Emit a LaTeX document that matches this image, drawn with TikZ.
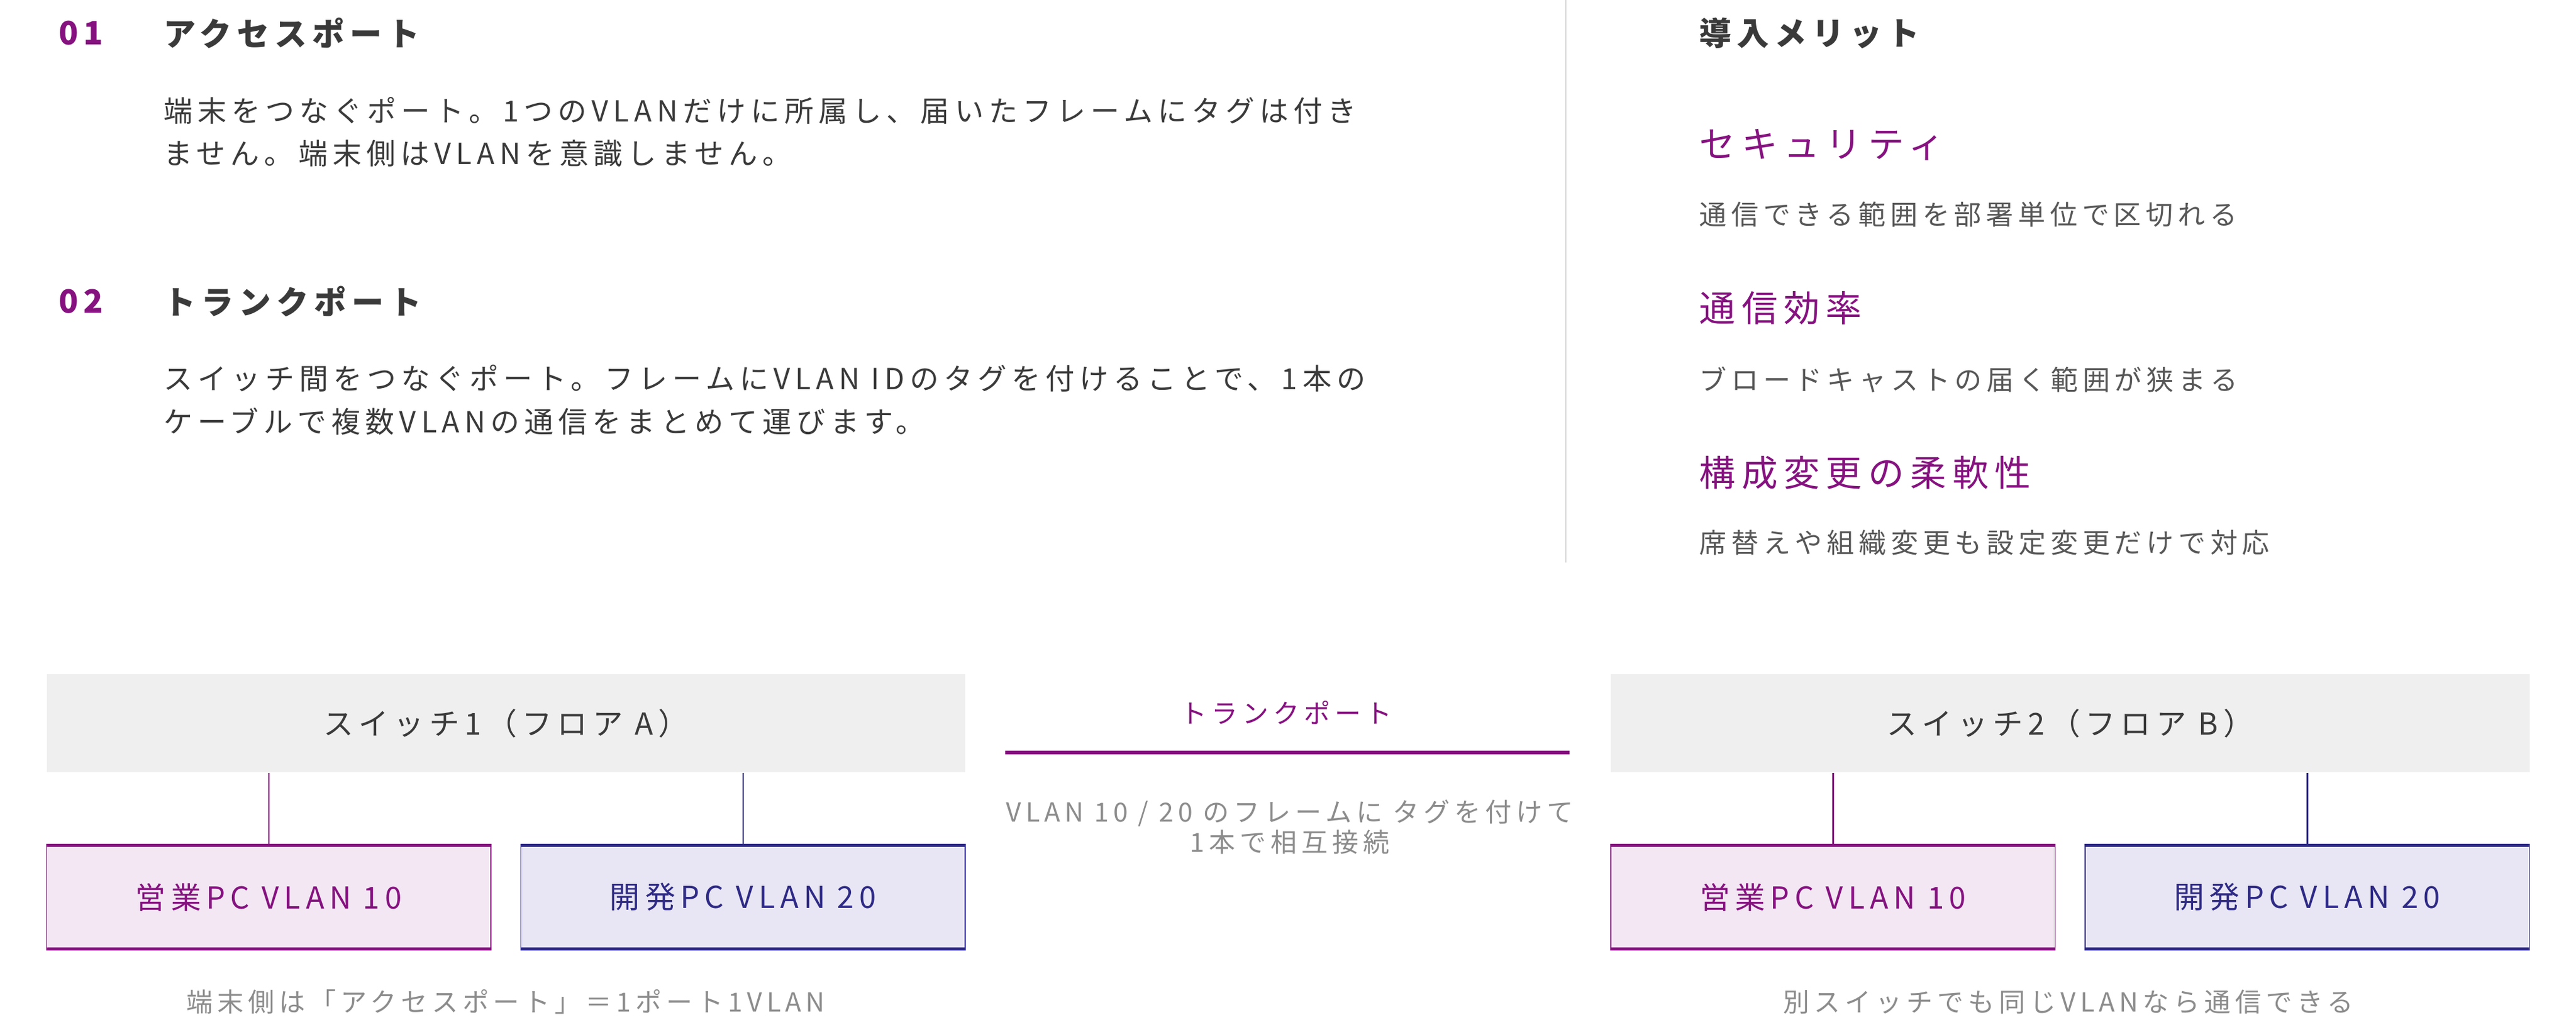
\documentclass[tikz,border=0pt]{standalone}
\usepackage{fontspec}
\setmainfont[LetterSpace=17]{Noto Sans CJK JP}
\usetikzlibrary{positioning}
\definecolor{vpurple}{HTML}{85127F}
\definecolor{vnavy}{HTML}{2E2A85}
\definecolor{vdark}{HTML}{3A3A3A}
\definecolor{vgray}{HTML}{8C8C8C}
\definecolor{vswitch}{HTML}{EFEFEF}
\definecolor{vpinkfill}{HTML}{F3E7F4}
\definecolor{vbluefill}{HTML}{E8E6F4}
\begin{document}
\begin{tikzpicture}[x=0.03cm,y=-0.03cm,
  num/.style={anchor=west,inner sep=0,text=vpurple,font=\fontsize{16.5}{20}\selectfont\bfseries},
  head/.style={anchor=west,inner sep=0,text=vdark,font=\fontsize{16.5}{20}\selectfont\bfseries},
  body/.style={anchor=north west,inner sep=0,text=vdark,align=left,font=\fontsize{14.9}{22}\selectfont},
  merit/.style={anchor=west,inner sep=0,text=vpurple,font=\fontsize{18.5}{22}\selectfont},
  note/.style={anchor=west,inner sep=0,text=vdark!85,font=\fontsize{14}{18}\selectfont},
  switch_node/.style={fill=vswitch,minimum width=552*0.03cm,minimum height=59*0.03cm,inner sep=0,text=vdark,font=\fontsize{15.5}{18}\selectfont},
  sales_node/.style={draw=vpurple,fill=vpinkfill,minimum width=267*0.03cm,minimum height=62*0.03cm,inner sep=0,text=vpurple,font=\fontsize{15.5}{18}\selectfont},
  dev_node/.style={draw=vnavy,fill=vbluefill,minimum width=267*0.03cm,minimum height=62*0.03cm,inner sep=0,text=vnavy,font=\fontsize{15.5}{18}\selectfont},
  caption/.style={inner sep=0,text=vgray,font=\fontsize{13.5}{18}\selectfont,align=center}]
\useasboundingbox (0,0) rectangle (1548,617);

% left column
\node[num] (n1) at (35,20) {01};
\node[head] (h1) at (98,20) {アクセスポート};
\node[body] (b1) at (98,58) {端末をつなぐポート。1つのVLANだけに所属し、届いたフレームにタグは付き\\ません。端末側はVLANを意識しません。};
\node[num] (n2) at (35,181) {02};
\node[head] (h2) at (98,181) {トランクポート};
\node[body] (b2) at (98,219) {スイッチ間をつなぐポート。フレームにVLAN IDのタグを付けることで、1本の\\ケーブルで複数VLANの通信をまとめて運びます。};

\coordinate (sepa) at (941,0);
\coordinate (sepb) at (941,338);
\draw[black!15,line width=0.6pt] (sepa) -- (sepb);

% right column
\node[head] (h3) at (1021,20) {導入メリット};
\node[merit] (m1) at (1021,87) {セキュリティ};
\node[note] (t1) at (1021,129) {通信できる範囲を部署単位で区切れる};
\node[merit] (m2) at (1021,185) {通信効率};
\node[note] (t2) at (1021,228) {ブロードキャストの届く範囲が狭まる};
\node[merit] (m3) at (1021,284) {構成変更の柔軟性};
\node[note] (t3) at (1021,326) {席替えや組織変更も設定変更だけで対応};

% switch 1
\node[switch_node] (sw1) at (304,434.5) {スイッチ1（フロア A）};
\node[sales_node] (pc1) at (161.5,539) {営業PC VLAN 10};
\node[dev_node] (pc2) at (446.5,539) {開発PC VLAN 20};
\draw[vpurple,line width=0.8pt] (sw1.south -| pc1) -- (pc1);
\draw[vnavy,line width=0.8pt] (sw1.south -| pc2) -- (pc2);
\draw[vpurple,line width=1.6pt] (pc1.north west) -- (pc1.north east) (pc1.south west) -- (pc1.south east);
\draw[vnavy,line width=1.6pt] (pc2.north west) -- (pc2.north east) (pc2.south west) -- (pc2.south east);
\node[caption] (c1) at (304,602) {端末側は「アクセスポート」＝1ポート1VLAN};

% trunk
\node[caption,text=vpurple] (tr) at (773,428) {トランクポート};
\coordinate (tra) at (604,452);
\coordinate (trb) at (943,452);
\draw[vpurple,line width=1.8pt] (tra) -- (trb);
\node[caption,font=\fontsize{13.5}{15.5}\selectfont] (trn) at (775,497) {VLAN 10 / 20 のフレームに タグを付けて\\1本で相互接続};

% switch 2
\node[switch_node] (sw2) at (1244,434.5) {スイッチ2（フロア B）};
\node[sales_node] (pc3) at (1101.5,539) {営業PC VLAN 10};
\node[dev_node] (pc4) at (1386.5,539) {開発PC VLAN 20};
\draw[vpurple,line width=0.8pt] (sw2.south -| pc3) -- (pc3);
\draw[vnavy,line width=0.8pt] (sw2.south -| pc4) -- (pc4);
\draw[vpurple,line width=1.6pt] (pc3.north west) -- (pc3.north east) (pc3.south west) -- (pc3.south east);
\draw[vnavy,line width=1.6pt] (pc4.north west) -- (pc4.north east) (pc4.south west) -- (pc4.south east);
\node[caption] (c2) at (1243,602) {別スイッチでも同じVLANなら通信できる};
\end{tikzpicture}
\end{document}
